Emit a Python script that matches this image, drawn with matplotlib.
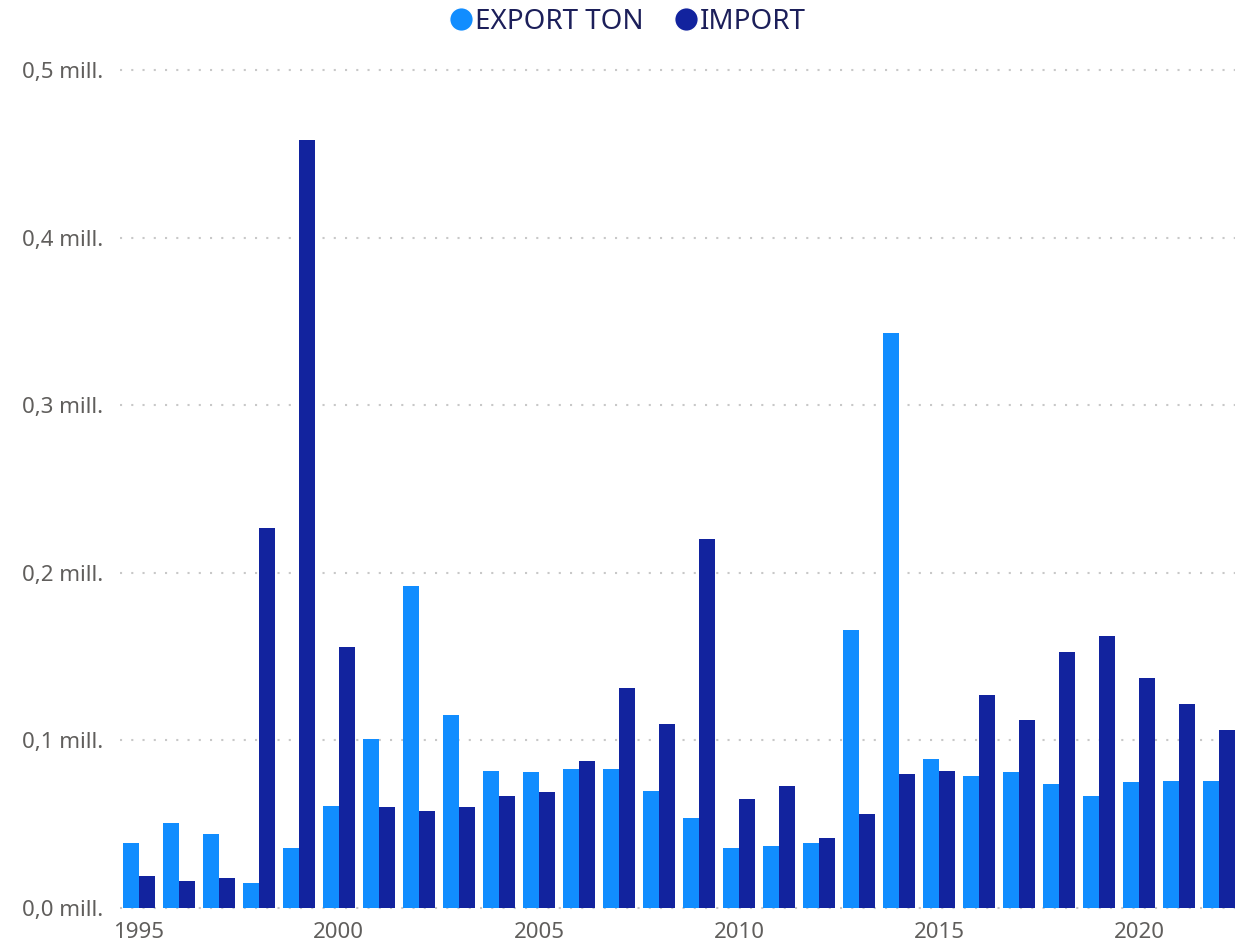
import numpy as np
import matplotlib
matplotlib.use('Agg')
import matplotlib.pyplot as plt
from matplotlib.lines import Line2D

plt.rcParams['font.family'] = ['Noto Sans', 'DejaVu Sans']

years = list(range(1995, 2023))
export_ton = [0.0388, 0.051, 0.044, 0.015, 0.036, 0.061, 0.101, 0.192, 0.115, 0.082,
              0.081, 0.083, 0.083, 0.070, 0.054, 0.036, 0.037, 0.039, 0.166, 0.343,
              0.089, 0.079, 0.081, 0.074, 0.067, 0.075, 0.076, 0.076]
imports = [0.019, 0.016, 0.018, 0.227, 0.458, 0.156, 0.060, 0.058, 0.060, 0.067,
           0.069, 0.088, 0.131, 0.110, 0.220, 0.065, 0.073, 0.042, 0.056, 0.080,
           0.082, 0.127, 0.112, 0.153, 0.162, 0.137, 0.122, 0.106]
y_ticks = [0.0, 0.1, 0.2, 0.3, 0.4, 0.5]
y_labels = ['0,0 mill.', '0,1 mill.', '0,2 mill.', '0,3 mill.', '0,4 mill.', '0,5 mill.']
x_ticks = [1995, 2000, 2005, 2010, 2015, 2020]

c_exp = '#118DFF'
c_imp = '#12239E'
txt = '#605E5C'

fig = plt.figure(figsize=(12.5, 9.43), dpi=100)
ax = fig.add_axes([0.096, 0.0371, 0.892, 0.8887])

x = np.array(years)
w = 0.4
ax.bar(x - w / 2, export_ton, width=w, color=c_exp, label='EXPORT TON')
ax.bar(x + w / 2, imports, width=w, color=c_imp, label='IMPORT')

ax.set_xlim(1994.53, 2022.4)
ax.set_ylim(0, 0.5)
ax.set_yticks(y_ticks, y_labels)
ax.set_xticks(x_ticks, [str(v) for v in x_ticks])
# dotted grid lines
for v in y_ticks:
    ax.axhline(v, color='#C8C8C8', linestyle=(0, (1, 4.4)), linewidth=1.5,
               zorder=0, clip_on=False)
ax.tick_params(axis='both', length=0, labelsize=16, labelcolor=txt)
ax.tick_params(axis='y', pad=12)
ax.tick_params(axis='x', pad=10)
for s in ax.spines.values():
    s.set_visible(False)

handles = [Line2D([0], [0], marker='o', color='w', markerfacecolor=c_exp, markersize=17),
           Line2D([0], [0], marker='o', color='w', markerfacecolor=c_imp, markersize=17)]
fig.legend(handles, ['EXPORT TON', 'IMPORT'], loc='upper center', bbox_to_anchor=(0.5, 1.018),
           ncol=2, frameon=False, fontsize=20, labelcolor='#1C1F5A', handletextpad=-0.1,
           columnspacing=0.9, handlelength=1.2)

plt.savefig('out.png')
